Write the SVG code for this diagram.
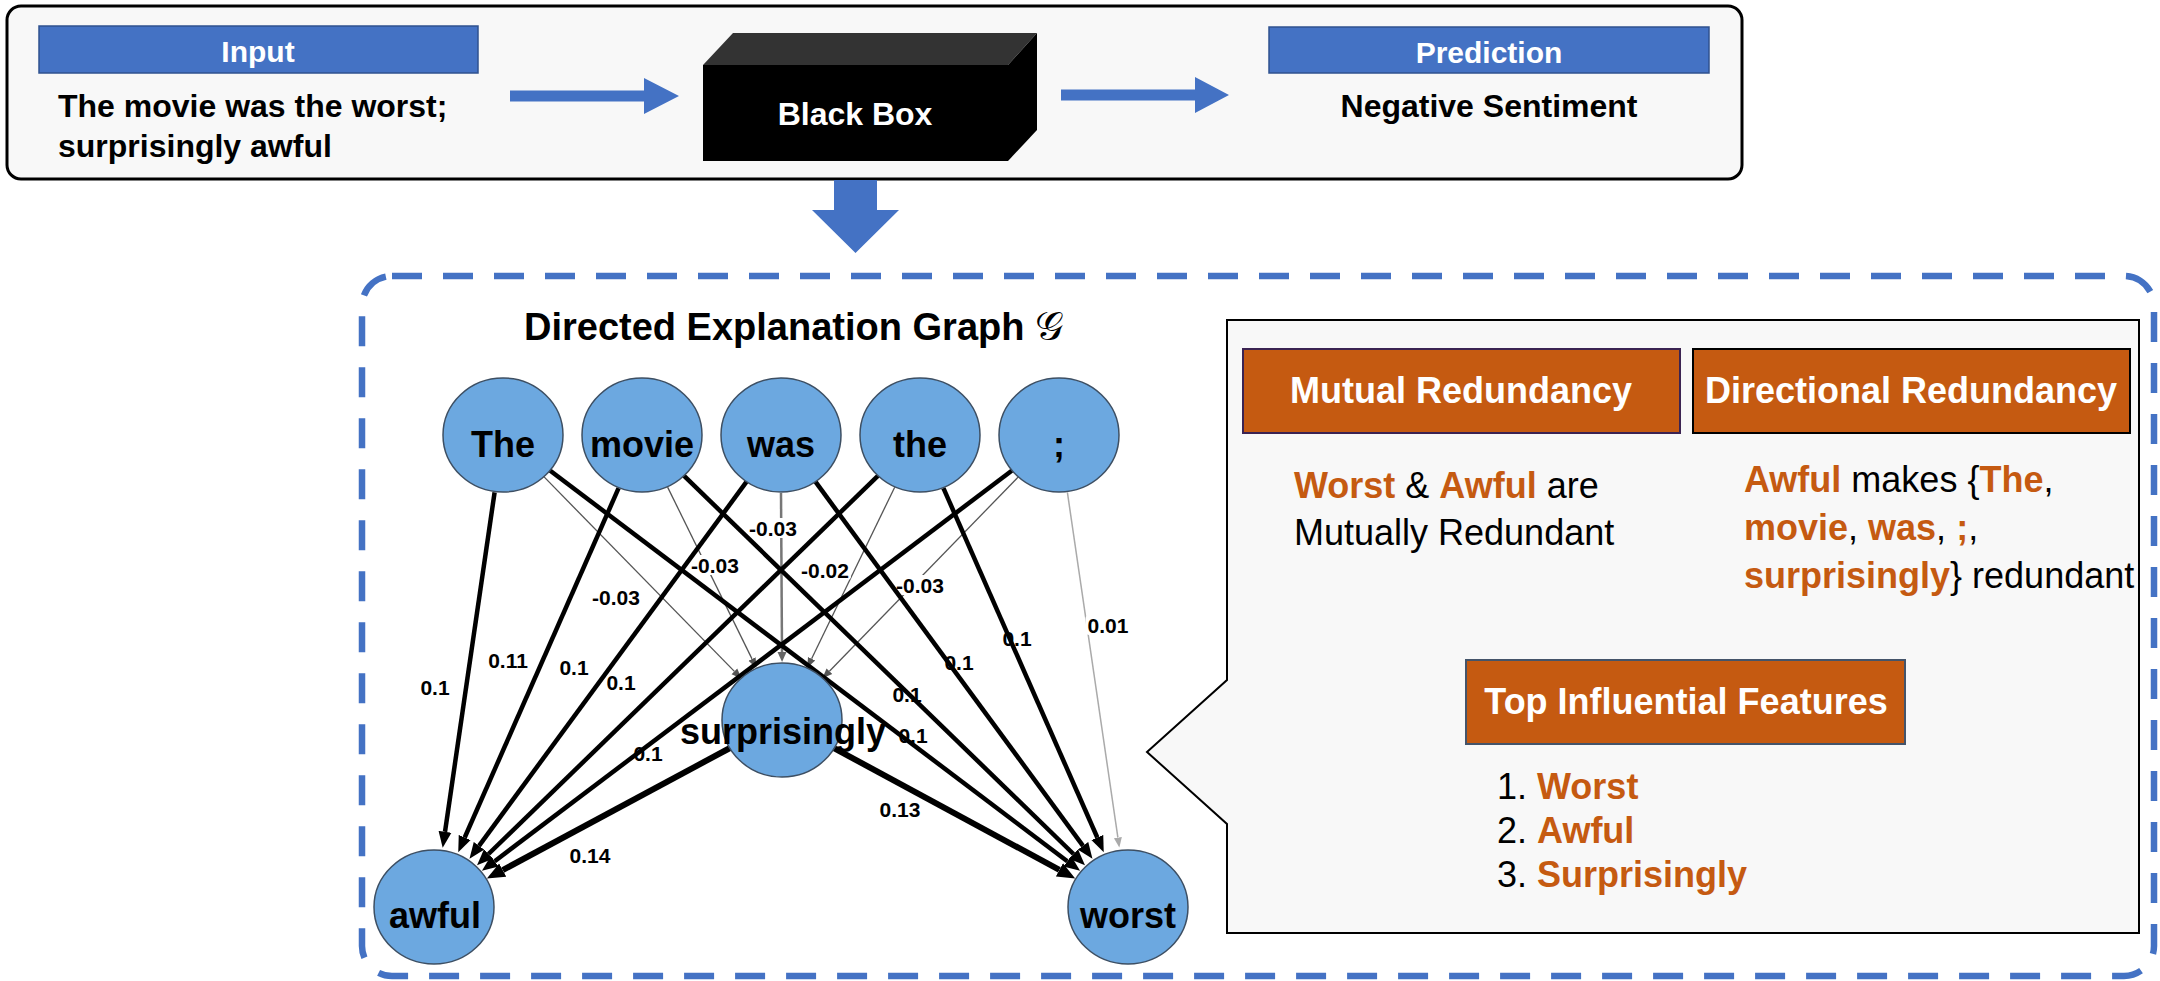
<svg xmlns="http://www.w3.org/2000/svg" width="2160" height="981" viewBox="0 0 2160 981">
<style>
  text { font-family: "Liberation Sans", Arial, sans-serif; }
  .b { font-weight: bold; }
  .white { fill: #ffffff; }
  .o { fill: #C55A11; font-weight: bold; }
  .hdrblue { fill: #4472C4; stroke: #2F528F; stroke-width: 1.5; }
  .hdrorange { fill: #C55A11; stroke-width: 2; }
  .blockarrow { fill: #4472C4; }
  .node ellipse { fill: #6CA8E0; stroke: #3D4F63; stroke-width: 1.5; }
  .node text { font-size: 36px; font-weight: bold; text-anchor: middle; fill: #000; }
  .thick { stroke: #000; stroke-width: 4.5; marker-end: url(#ab); }
  .heavy { stroke: #000; stroke-width: 6; marker-end: url(#ah); }
  .thin { stroke: #555; stroke-width: 1.3; marker-end: url(#as); }
  .lbl rect { fill: #fff; }
  .lbl text { font-size: 21px; font-weight: bold; text-anchor: middle; fill: #000; }
  .body { font-size: 36px; fill: #000; }
  .hdrtxt { font-size: 36px; font-weight: bold; fill: #fff; text-anchor: middle; }
</style>
<defs>
  <marker id="ab" viewBox="0 -7 18 14" markerWidth="18" markerHeight="14" refX="0" refY="0" orient="auto" markerUnits="userSpaceOnUse">
    <path d="M0,-6.5 L16,0 L0,6.5 z" fill="#000"/>
  </marker>
  <marker id="ah" viewBox="0 -8 20 16" markerWidth="20" markerHeight="16" refX="0" refY="0" orient="auto" markerUnits="userSpaceOnUse">
    <path d="M0,-7.5 L18,0 L0,7.5 z" fill="#000"/>
  </marker>
  <marker id="as" viewBox="0 -5 12 10" markerWidth="12" markerHeight="10" refX="0" refY="0" orient="auto" markerUnits="userSpaceOnUse">
    <path d="M0,-4 L10,0 L0,4 z" fill="#555"/>
  </marker>
  <marker id="am" viewBox="0 -5 12 10" markerWidth="12" markerHeight="10" refX="0" refY="0" orient="auto" markerUnits="userSpaceOnUse">
    <path d="M0,-4.5 L10,0 L0,4.5 z" fill="#666"/>
  </marker>
  <marker id="al" viewBox="0 -5 12 10" markerWidth="12" markerHeight="10" refX="0" refY="0" orient="auto" markerUnits="userSpaceOnUse">
    <path d="M0,-4 L10,0 L0,4 z" fill="#aaa"/>
  </marker>
</defs>

<rect width="2160" height="981" fill="#ffffff"/>

<!-- Top pipeline -->
<g id="pipeline-box">
  <rect x="7" y="6" width="1735" height="173" rx="14" fill="#f8f8f8" stroke="#000" stroke-width="3"/>
</g>
<g id="input">
  <rect class="hdrblue" x="39" y="26" width="439" height="47"/>
  <text class="b white" x="258" y="62" font-size="30" text-anchor="middle">Input</text>
  <text class="b" x="58" y="117" font-size="32">The movie was the worst;</text>
  <text class="b" x="58" y="157" font-size="32">surprisingly awful</text>
</g>
<g id="arrow-input-blackbox">
  <polygon class="blockarrow" points="510,90.5 644,90.5 644,78 679,96 644,114 644,101.5 510,101.5"/>
</g>
<g id="black-box">
  <polygon points="703,65 733,33 1037,33 1008,65" fill="#333"/>
  <polygon points="1008,65 1037,33 1037,130 1008,161" fill="#000"/>
  <rect x="703" y="65" width="305" height="96" fill="#000"/>
  <text class="b white" x="855" y="125" font-size="32" text-anchor="middle">Black Box</text>
</g>
<g id="arrow-blackbox-prediction">
  <polygon class="blockarrow" points="1061,89.5 1195,89.5 1195,77 1229,95 1195,113 1195,100.5 1061,100.5"/>
</g>
<g id="prediction">
  <rect class="hdrblue" x="1269" y="27" width="440" height="46"/>
  <text class="b white" x="1489" y="63" font-size="30" text-anchor="middle">Prediction</text>
  <text class="b" x="1489" y="117" font-size="32" text-anchor="middle">Negative Sentiment</text>
</g>
<g id="arrow-down">
  <polygon class="blockarrow" points="834,180 877,180 877,210 899,210 855.5,253 812,210 834,210"/>
</g>

<!-- Explanation container -->
<g id="explanation-container">
  <rect x="362" y="276" width="1792" height="700" rx="30" fill="none" stroke="#4472C4" stroke-width="6.5" stroke-dasharray="30 21"/>
</g>

<g id="graph-title">
  <text class="b" x="524" y="340" font-size="38">Directed Explanation Graph <tspan font-family="DejaVu Serif, DejaVu Sans, serif" font-weight="normal" font-size="40">𝒢</tspan></text>
</g>

<!-- Connectors -->
<g id="connectors">
  <g id="weak-edges" fill="none">
    <line class="thin" x1="543.6" y1="476.4" x2="734.4" y2="671.4"/>
    <line class="thin" x1="667.6" y1="487.1" x2="752.0" y2="658.9"/>
    <line x1="781" y1="493" x2="782" y2="652" stroke="#777" stroke-width="2.5" marker-end="url(#am)"/>
    <line class="thin" x1="894.7" y1="487.2" x2="811.6" y2="658.8"/>
    <line class="thin" x1="1018.6" y1="476.6" x2="829.4" y2="671.2"/>
    <line x1="1067.4" y1="492.4" x2="1117.9" y2="837.7" stroke="#aaa" stroke-width="1.5" marker-end="url(#al)"/>
  </g>
  <g id="edge-labels" class="lbl">
    <rect x="418.5" y="677" width="33" height="20" rx="4"/><text x="435" y="694.5">0.1</text>
    <rect x="485.5" y="650" width="45" height="20" rx="4"/><text x="508" y="667.5">0.11</text>
    <rect x="557.5" y="657" width="33" height="20" rx="4"/><text x="574" y="674.5">0.1</text>
    <rect x="604.5" y="672" width="33" height="20" rx="4"/><text x="621" y="689.5">0.1</text>
    <rect x="631.5" y="743" width="33" height="20" rx="4"/><text x="648" y="760.5">0.1</text>
    <rect x="567.5" y="845" width="45" height="20" rx="4"/><text x="590" y="862.5">0.14</text>
    <rect x="896.5" y="725" width="33" height="20" rx="4"/><text x="913" y="742.5">0.1</text>
    <rect x="890.5" y="684" width="33" height="20" rx="4"/><text x="907" y="701.5">0.1</text>
    <rect x="942.5" y="652" width="33" height="20" rx="4"/><text x="959" y="669.5">0.1</text>
    <rect x="1000.5" y="628" width="33" height="20" rx="4"/><text x="1017" y="645.5">0.1</text>
    <rect x="1085.5" y="615" width="45" height="20" rx="4"/><text x="1108" y="632.5">0.01</text>
    <rect x="877.5" y="799" width="45" height="20" rx="4"/><text x="900" y="816.5">0.13</text>
    <rect x="590" y="587" width="52" height="20" rx="4"/><text x="616" y="604.5">-0.03</text>
    <rect x="689" y="555" width="52" height="20" rx="4"/><text x="715" y="572.5">-0.03</text>
    <rect x="747" y="518" width="52" height="20" rx="4"/><text x="773" y="535.5">-0.03</text>
    <rect x="799" y="560" width="52" height="20" rx="4"/><text x="825" y="577.5">-0.02</text>
    <rect x="894" y="575" width="52" height="20" rx="4"/><text x="920" y="592.5">-0.03</text>
  </g>
  <g id="strong-edges" fill="none">
    <line class="thick" x1="494.6" y1="492.4" x2="445.0" y2="831.8"/>
    <line class="thick" x1="618.6" y1="488.1" x2="464.7" y2="837.5"/>
    <line class="thick" x1="746.6" y1="481.7" x2="479.0" y2="845.8"/>
    <line class="thick" x1="878.4" y1="475.4" x2="488.5" y2="854.0"/>
    <line class="thick" x1="1012.7" y1="470.0" x2="494.7" y2="861.2"/>
    <line class="thick" x1="549.3" y1="470.0" x2="1067.3" y2="861.2"/>
    <line class="thick" x1="683.6" y1="475.4" x2="1073.5" y2="854.0"/>
    <line class="thick" x1="815.4" y1="481.7" x2="1083.0" y2="845.8"/>
    <line class="thick" x1="943.4" y1="488.1" x2="1097.3" y2="837.5"/>
    <line class="heavy" x1="730.9" y1="747.5" x2="502.7" y2="870.1"/>
    <line class="heavy" x1="833.0" y1="747.6" x2="1059.4" y2="869.9"/>
  </g>
</g>

<!-- Nodes -->
<g id="node-The" class="node"><ellipse cx="503" cy="435" rx="60" ry="57"/><text x="503" y="457">The</text></g>
<g id="node-movie" class="node"><ellipse cx="642" cy="435" rx="60" ry="57"/><text x="642" y="457">movie</text></g>
<g id="node-was" class="node"><ellipse cx="781" cy="435" rx="60" ry="57"/><text x="781" y="457">was</text></g>
<g id="node-the" class="node"><ellipse cx="920" cy="435" rx="60" ry="57"/><text x="920" y="457">the</text></g>
<g id="node-semicolon" class="node"><ellipse cx="1059" cy="435" rx="60" ry="57"/><text x="1059" y="457">;</text></g>
<g id="node-surprisingly" class="node"><ellipse cx="782" cy="720" rx="60" ry="57"/><text x="783" y="744">surprisingly</text></g>
<g id="node-awful" class="node"><ellipse cx="434" cy="907" rx="60" ry="57"/><text x="435" y="928">awful</text></g>
<g id="node-worst" class="node"><ellipse cx="1128" cy="907" rx="60" ry="57"/><text x="1128" y="928">worst</text></g>

<!-- Callout panel -->
<g id="callout-panel">
  <path d="M1227,320 H2139 V933 H1227 V824 L1147,752 L1227,680 Z" fill="#f8f8f8" stroke="#000" stroke-width="2"/>
</g>
<g id="mutual-redundancy">
  <rect class="hdrorange" x="1243" y="349" width="437" height="84" stroke="#3b2352"/>
  <text class="hdrtxt" x="1461" y="403">Mutual Redundancy</text>
  <text class="body" x="1294" y="498"><tspan class="o">Worst</tspan> &amp; <tspan class="o">Awful</tspan> are</text>
  <text class="body" x="1294" y="545">Mutually Redundant</text>
</g>
<g id="directional-redundancy">
  <rect class="hdrorange" x="1693" y="349" width="437" height="84" stroke="#000"/>
  <text class="hdrtxt" x="1911" y="403">Directional Redundancy</text>
  <text class="body" x="1744" y="492"><tspan class="o">Awful</tspan> makes {<tspan class="o">The</tspan>,</text>
  <text class="body" x="1744" y="540"><tspan class="o">movie</tspan>, <tspan class="o">was</tspan>, <tspan class="o">;</tspan>,</text>
  <text class="body" x="1744" y="588"><tspan class="o">surprisingly</tspan>} redundant</text>
</g>
<g id="top-features">
  <rect class="hdrorange" x="1466" y="660" width="439" height="84" stroke="#44546A" stroke-width="1.5"/>
  <text class="hdrtxt" x="1686" y="714" font-size="35">Top Influential Features</text>
  <text class="body" x="1497" y="799">1. <tspan class="o">Worst</tspan></text>
  <text class="body" x="1497" y="843">2. <tspan class="o">Awful</tspan></text>
  <text class="body" x="1497" y="887">3. <tspan class="o">Surprisingly</tspan></text>
</g>
</svg>
